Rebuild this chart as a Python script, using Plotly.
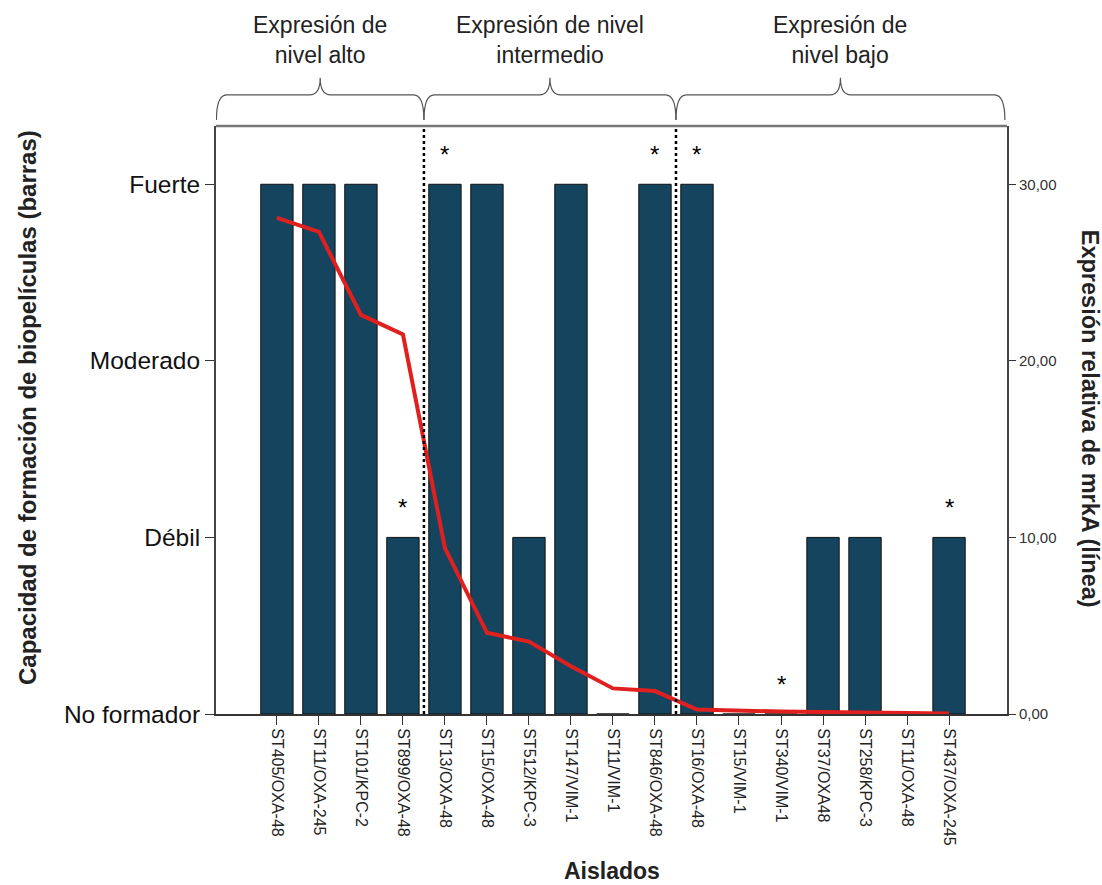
import plotly.graph_objects as go

# Isolates (x axis)
aislados = [
    "ST405/OXA-48", "ST11/OXA-245", "ST101/KPC-2", "ST899/OXA-48",
    "ST13/OXA-48", "ST15/OXA-48", "ST512/KPC-3", "ST147/VIM-1",
    "ST11/VIM-1", "ST846/OXA-48", "ST16/OXA-48", "ST15/VIM-1",
    "ST340/VIM-1", "ST37/OXA48", "ST258/KPC-3", "ST11/OXA-48",
    "ST437/OXA-245",
]

# Biofilm formation level: 0 = No formador, 1 = Débil, 2 = Moderado, 3 = Fuerte
biopelicula = [3, 3, 3, 1, 3, 3, 1, 3, 0, 3, 3, 0, 0, 1, 1, 0, 1]
niveles = ["No formador", "Débil", "Moderado", "Fuerte"]

# Relative mrkA expression (line, right axis)
expresion_mrkA = [28.1, 27.3, 22.6, 21.5, 9.4, 4.6, 4.1, 2.7, 1.45, 1.3,
                  0.25, 0.18, 0.14, 0.11, 0.08, 0.05, 0.03]
ticks_expresion = [0, 10, 20, 30]
ticks_expresion_txt = ["0,00", "10,00", "20,00", "30,00"]

# Isolates flagged with an asterisk
marcados = [3, 4, 9, 10, 12, 16]

# Expression groups: (title, first index, last index)
grupos = [
    ("Expresión de<br>nivel alto", 0, 3),
    ("Expresión de nivel<br>intermedio", 4, 9),
    ("Expresión de<br>nivel bajo", 10, 16),
]

FONT = "Liberation Sans, Arial, sans-serif"
x_range = [-1.45, 17.38]
y_max_levels = 3.33
idx = list(range(len(aislados)))

fig = go.Figure()
fig.add_trace(go.Bar(
    x=idx, y=biopelicula, width=0.77,
    marker=dict(color="#15445F", line=dict(color="#111111", width=1)),
    yaxis="y", showlegend=False, hoverinfo="skip",
))
fig.add_trace(go.Scatter(
    x=idx, y=expresion_mrkA, mode="lines",
    line=dict(color="#E0201E", width=4),
    yaxis="y2", showlegend=False, hoverinfo="skip",
))

shapes = []
annotations = []

# dotted separators between groups and braces above them
edges = [x_range[0] + 0.01]
for _, a, b in grupos[:-1]:
    edges.append(b + 0.5)
edges.append(x_range[1] - 0.05)
for xs in edges[1:-1]:
    shapes.append(dict(type="line", xref="x", yref="paper", x0=xs, x1=xs,
                       y0=0, y1=1, line=dict(color="black", width=2.5, dash="dot")))

y_end, y_mid, y_top = 1.010, 1.053, 1.082
d = 0.25
for (titulo, a, b), x0, x1 in zip(grupos, edges[:-1], edges[1:]):
    xc = (x0 + x1) / 2
    path = (f"M {x0},{y_end} Q {x0},{y_mid} {x0 + d},{y_mid} "
            f"L {xc - d},{y_mid} Q {xc},{y_mid} {xc},{y_top} "
            f"Q {xc},{y_mid} {xc + d},{y_mid} "
            f"L {x1 - d},{y_mid} Q {x1},{y_mid} {x1},{y_end}")
    shapes.append(dict(type="path", xref="x", yref="paper", path=path,
                       line=dict(color="#555555", width=1.2)))
    annotations.append(dict(x=xc, y=1.146, xref="x", yref="paper",
                            text=titulo, showarrow=False,
                            xanchor="center", yanchor="middle",
                            font=dict(family=FONT, size=23, color="#222222")))

# top border of the frame
shapes.append(dict(type="line", xref="paper", yref="paper", x0=0, x1=1, y0=1, y1=1,
                   line=dict(color="#777777", width=2.5)))

for i in marcados:
    annotations.append(dict(x=i, y=biopelicula[i], xref="x", yref="y", text="*",
                            showarrow=False, yanchor="middle", yshift=30,
                            font=dict(family=FONT, size=24, color="black")))

# axis titles
annotations.append(dict(x=-0.239, y=0.522, xref="paper", yref="paper",
                        text="<b>Capacidad de formación de biopelículas (barras)</b>",
                        textangle=-90, showarrow=False,
                        xanchor="center", yanchor="middle",
                        font=dict(family=FONT, size=24, color="#222222")))
annotations.append(dict(x=1.105, y=0.502, xref="paper", yref="paper",
                        text="<b>Expresión relativa de mrkA (línea)</b>",
                        textangle=90, showarrow=False,
                        xanchor="center", yanchor="middle",
                        font=dict(family=FONT, size=23.5, color="#222222")))
annotations.append(dict(x=0.5, y=-0.267, xref="paper", yref="paper",
                        text="<b>Aislados</b>", showarrow=False,
                        xanchor="center", yanchor="middle",
                        font=dict(family=FONT, size=23, color="#222222")))

fig.update_layout(
    width=1102, height=885,
    margin=dict(l=216, r=95, t=126, b=171),
    paper_bgcolor="white", plot_bgcolor="white",
    bargap=0.2,
    xaxis=dict(
        range=x_range, tickmode="array", tickvals=idx, ticktext=aislados,
        tickangle=90, ticks="outside", ticklen=9, tickcolor="#333333",
        showline=True, linecolor="#333333", linewidth=2,
        showgrid=False, zeroline=False,
        tickfont=dict(family=FONT, size=16, color="#222222"),
    ),
    yaxis=dict(
        range=[0, y_max_levels], tickmode="array", tickvals=[0, 1, 2, 3],
        ticktext=niveles, ticks="outside", ticklen=9, tickcolor="#333333",
        showline=True, linecolor="#444444", linewidth=2,
        showgrid=False, zeroline=False,
        tickfont=dict(family=FONT, size=24.5, color="#111111"),
    ),
    yaxis2=dict(
        range=[0, y_max_levels * 10], overlaying="y", side="right",
        tickmode="array", tickvals=ticks_expresion, ticktext=ticks_expresion_txt,
        ticks="outside", ticklen=7, tickcolor="#333333",
        showline=True, linecolor="#444444", linewidth=2,
        showgrid=False, zeroline=False,
        tickfont=dict(family=FONT, size=15, color="#333333"),
    ),
    shapes=shapes,
    annotations=annotations,
)

fig.write_html("out.html")
